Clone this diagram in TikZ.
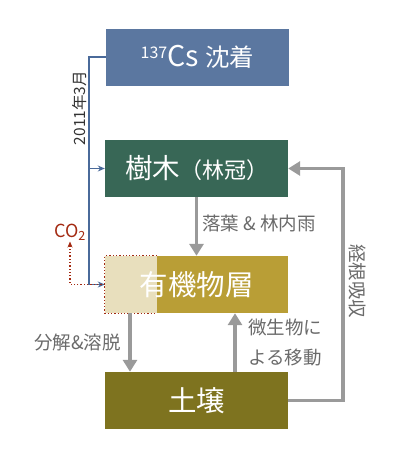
\documentclass[tikz,border=0pt]{standalone}
\usepackage{fontspec}
\setmainfont{Noto Sans CJK JP}
\usetikzlibrary{arrows.meta,positioning}

\definecolor{csblue}{HTML}{5B77A0}
\definecolor{treegreen}{HTML}{386756}
\definecolor{orggold}{HTML}{B99E36}
\definecolor{orglight}{HTML}{E8DFBD}
\definecolor{soilolive}{HTML}{7E731F}
\definecolor{flowgray}{HTML}{9A9A9A}
\definecolor{labelgray}{HTML}{6A6A6A}
\definecolor{co2red}{HTML}{A32A12}
\definecolor{lineblue}{HTML}{4A6A9A}

\begin{document}
\begin{tikzpicture}[x=1pt, y=-1pt,
    box/.style={minimum width=183pt, minimum height=57pt, inner sep=0pt,
                text=white, font=\fontsize{28.5}{32}\selectfont},
    flow/.style={draw=flowgray, line width=3.5pt,
                 -{Triangle[width=14pt,length=12pt]}},
    lbl/.style={text=labelgray, font=\fontsize{18.5}{30}\selectfont, inner sep=1pt},
    blueline/.style={draw=lineblue, line width=1.4pt},
    co2line/.style={draw=co2red, line width=1.3pt, dotted}]
\useasboundingbox (0,0) rectangle (400,466);

\node[box, fill=csblue] (cs) at (197.5,57)
    {{\fontsize{16}{18}\selectfont\raisebox{8pt}{137}}Cs {\fontsize{24.5}{28}\selectfont 沈着}};
\node[box, fill=treegreen, font=\fontsize{27.5}{30}\selectfont] (tree) at (196.5,168.5)
    {樹木{\fontsize{22}{24}\selectfont（林冠）}};
\node[box, fill=orggold, path picture={
    \fill[orglight] (path picture bounding box.north west)
        rectangle ([xshift=52pt]path picture bounding box.south west);}]
    (org) at (196.5,284.5) {有機物層};
\node[box, fill=soilolive] (soil) at (196.5,400.5) {土壌};
\draw[co2line] ([xshift=52pt]org.north west) -- (org.north west)
    -- (org.south west) -- ([xshift=52pt]org.south west);

% deposition in March 2011
\coordinate (dep) at (89,57);
\draw[blueline] (cs.west) -- (dep) -- (dep |- org.west);
\draw[blueline, -{Stealth[length=7pt,width=6pt]}] (dep |- tree.west) -- (tree.west);
\draw[blueline, -{Stealth[length=7pt,width=6pt]}] (dep |- org.west) -- (org.west);
\node[rotate=90, font=\fontsize{15.5}{18}\selectfont, text=black!80] (date) at (80,108) {2011年3月};

% respiration
\node[text=co2red, font=\fontsize{18}{20}\selectfont, inner sep=1pt] (co2) at (70,232) {CO\textsubscript{2}};
\draw[co2line, -{Stealth[length=6pt,width=5pt]}] (org.west) -| (co2.south);

% flows between the compartments
\draw[flow] (tree.south) -- (org.north);
\node[lbl, anchor=west] (litter) at (201,223) {落葉 \& 林内雨};
\draw[flow] ([xshift=-66.5pt]org.south) -- ([xshift=-66.5pt]soil.north);
\node[lbl, anchor=east] (leach) at (122,343) {分解\&溶脱};
\draw[flow] ([xshift=38.5pt]soil.north) -- ([xshift=38.5pt]org.south);
\node[lbl, anchor=west, align=left] (micro) at (247,343) {微生物に\\よる移動};
\coordinate (rc) at (343,168.5);
\draw[flow] (soil.east) -| (rc) -- (tree.east);
\node[lbl, rotate=-90] (root) at (357,281) {経根吸収};
\end{tikzpicture}
\end{document}
